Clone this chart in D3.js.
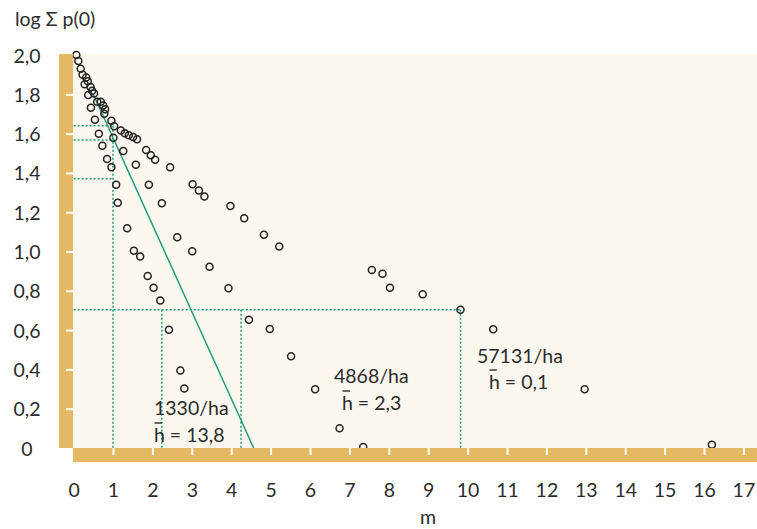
<!DOCTYPE html>
<html>
<head>
<meta charset="utf-8">
<script src="https://cdn.jsdelivr.net/npm/d3@7"></script>
<style>
  body { margin: 0; background: #fff; }
  svg { display: block; font-family: Lato, "Open Sans", sans-serif; }
</style>
</head>
<body>
<svg width="757" height="529"></svg>
<script>
const width = 757;
const height = 529;

// distance m and log sum p(0)
const pointX = [0.07, 0.12, 0.18, 0.23, 0.32, 0.36, 0.28, 0.43, 0.47, 0.52, 0.37, 0.60, 0.69, 0.75,
  0.80, 0.78, 0.44, 0.54, 0.96, 1.03, 1.20, 1.30, 1.40, 1.51, 1.61, 0.64, 1.01, 0.73, 1.26,
  1.84, 1.96, 2.07, 1.58, 2.45, 0.85, 0.96, 1.08, 1.91, 3.02, 3.18, 3.32, 1.12, 2.24, 3.98,
  4.33, 1.36, 2.63, 4.83, 5.22, 1.53, 1.69, 3.01, 3.45, 1.88, 2.03, 3.93, 2.20, 4.45, 4.98,
  2.42, 2.71, 2.81, 5.52, 6.13, 6.75, 7.35, 7.57, 7.84, 8.03, 8.86, 9.82, 10.65, 12.97, 16.20];
const pointY = [2.00, 1.97, 1.93, 1.90, 1.886, 1.866, 1.851, 1.837, 1.818, 1.804, 1.796, 1.762, 1.762, 1.743,
  1.724, 1.701, 1.732, 1.670, 1.666, 1.637, 1.616, 1.602, 1.591, 1.583, 1.571, 1.599, 1.579, 1.538, 1.511,
  1.516, 1.490, 1.467, 1.442, 1.429, 1.471, 1.429, 1.340, 1.340, 1.342, 1.310, 1.280, 1.248, 1.245, 1.232,
  1.169, 1.118, 1.072, 1.085, 1.026, 1.004, 0.974, 1.001, 0.923, 0.875, 0.816, 0.813, 0.751, 0.653, 0.605,
  0.602, 0.394, 0.303, 0.467, 0.299, 0.101, 0.005, 0.906, 0.887, 0.816, 0.783, 0.704, 0.604, 0.299, 0.017];

// fitted line
const fitX = [0.5, 4.57];
const fitY = [1.80, 0];

// dotted guide lines [x1, y1, x2, y2]
const guides = [
  [0, 1.64, 1, 1.64], [0, 1.567, 1, 1.567], [0, 1.37, 1, 1.37], [1, 1.64, 1, 0],
  [0, 0.704, 9.82, 0.704], [2.24, 0.704, 2.24, 0], [4.25, 0.704, 4.25, 0], [9.82, 0.704, 9.82, 0]
];

const yTicks = [0, 0.2, 0.4, 0.6, 0.8, 1.0, 1.2, 1.4, 1.6, 1.8, 2.0];
const xTicks = d3.range(0, 18);

const labels = [
  {x: 154, y: 415, t: "1330/ha"}, {x: 154, y: 442, t: "h = 13,8", bar: true},
  {x: 334, y: 383, t: "4868/ha"}, {x: 342, y: 410, t: "h = 2,3", bar: true},
  {x: 477, y: 363, t: "57131/ha"}, {x: 489, y: 389, t: "h = 0,1", bar: true}
];

const tan = "#e5b964";
const cream = "#fdf8ef";
const green = "#1f9c76";
const ink = "#2b2b2b";

let svg = d3.select("svg");

let x = d3.scaleLinear().domain([0, 17]).range([73.6, 743.4]);
let y = d3.scaleLinear().domain([0, 2]).range([448, 55]);

svg.append("rect").attr("x", 73).attr("y", 54).attr("width", width - 73).attr("height", 394).attr("fill", cream);

// guides
svg.append("g").selectAll("line").data(guides).enter().append("line")
  .attr("x1", d => x(d[0])).attr("y1", d => y(d[1]))
  .attr("x2", d => x(d[2])).attr("y2", d => y(d[3]))
  .attr("stroke", green).attr("stroke-width", 1.5).attr("stroke-dasharray", "2,2");

svg.append("line")
  .attr("x1", x(fitX[0])).attr("y1", y(fitY[0]))
  .attr("x2", x(fitX[1])).attr("y2", y(fitY[1]))
  .attr("stroke", green).attr("stroke-width", 1.5);

svg.append("g").selectAll("circle").data(pointX).enter().append("circle")
  .attr("cx", d => x(d)).attr("cy", (d, i) => y(pointY[i]))
  .attr("r", 3.5).attr("fill", "none").attr("stroke", "#222").attr("stroke-width", 1.5);

// axis bars
svg.append("rect").attr("x", 59).attr("y", 54).attr("width", 14).attr("height", 394).attr("fill", tan);
svg.append("rect").attr("x", 73).attr("y", 448).attr("width", width - 73).attr("height", 14).attr("fill", tan);

const fmt = d => d === 0 ? "0" : d.toFixed(1).replace(".", ",");

let yAxis = svg.append("g").attr("transform", "translate(73,0)")
  .call(d3.axisLeft(y).tickValues(yTicks).tickSize(7).tickFormat(fmt));
yAxis.select(".domain").remove();
yAxis.selectAll(".tick line").attr("stroke", "#fff").attr("stroke-width", 2)
  .attr("display", d => (d === 0 || d === 2) ? "none" : null);
yAxis.selectAll(".tick text").attr("x", 27 - 73).attr("dy", "0.36em")
  .attr("text-anchor", "middle").attr("fill", ink).style("font-size", "19.5px").style("font-family", "Lato");

let xAxis = svg.append("g").attr("transform", "translate(0,448)")
  .call(d3.axisBottom(x).tickValues(xTicks).tickSize(7).tickFormat(d => d));
xAxis.select(".domain").remove();
xAxis.selectAll(".tick line").attr("stroke", "#fff").attr("stroke-width", 2)
  .attr("display", d => d === 0 ? "none" : null);
xAxis.selectAll(".tick text").attr("y", 49).attr("dy", 0)
  .attr("fill", ink).style("font-size", "19.5px").style("font-family", "Lato");

svg.append("text").attr("x", 15).attr("y", 26).attr("fill", ink)
  .style("font-size", "19.5px").text("log Σ p(0)");
svg.append("text").attr("x", 428).attr("y", 524).attr("text-anchor", "middle").attr("fill", ink)
  .style("font-size", "19.5px").text("m");

// annotations with h-bar
labels.forEach(l => {
  let t = svg.append("text").attr("x", l.x).attr("y", l.y).attr("fill", ink)
    .style("font-size", "19.5px").text(l.t);
  if (l.bar) {
    let w = t.node().getSubStringLength(0, 1);
    svg.append("line").attr("x1", l.x + 0.5).attr("x2", l.x + w - 3)
      .attr("y1", l.y - 19).attr("y2", l.y - 19)
      .attr("stroke", ink).attr("stroke-width", 1.4);
  }
});
</script>
</body>
</html>
